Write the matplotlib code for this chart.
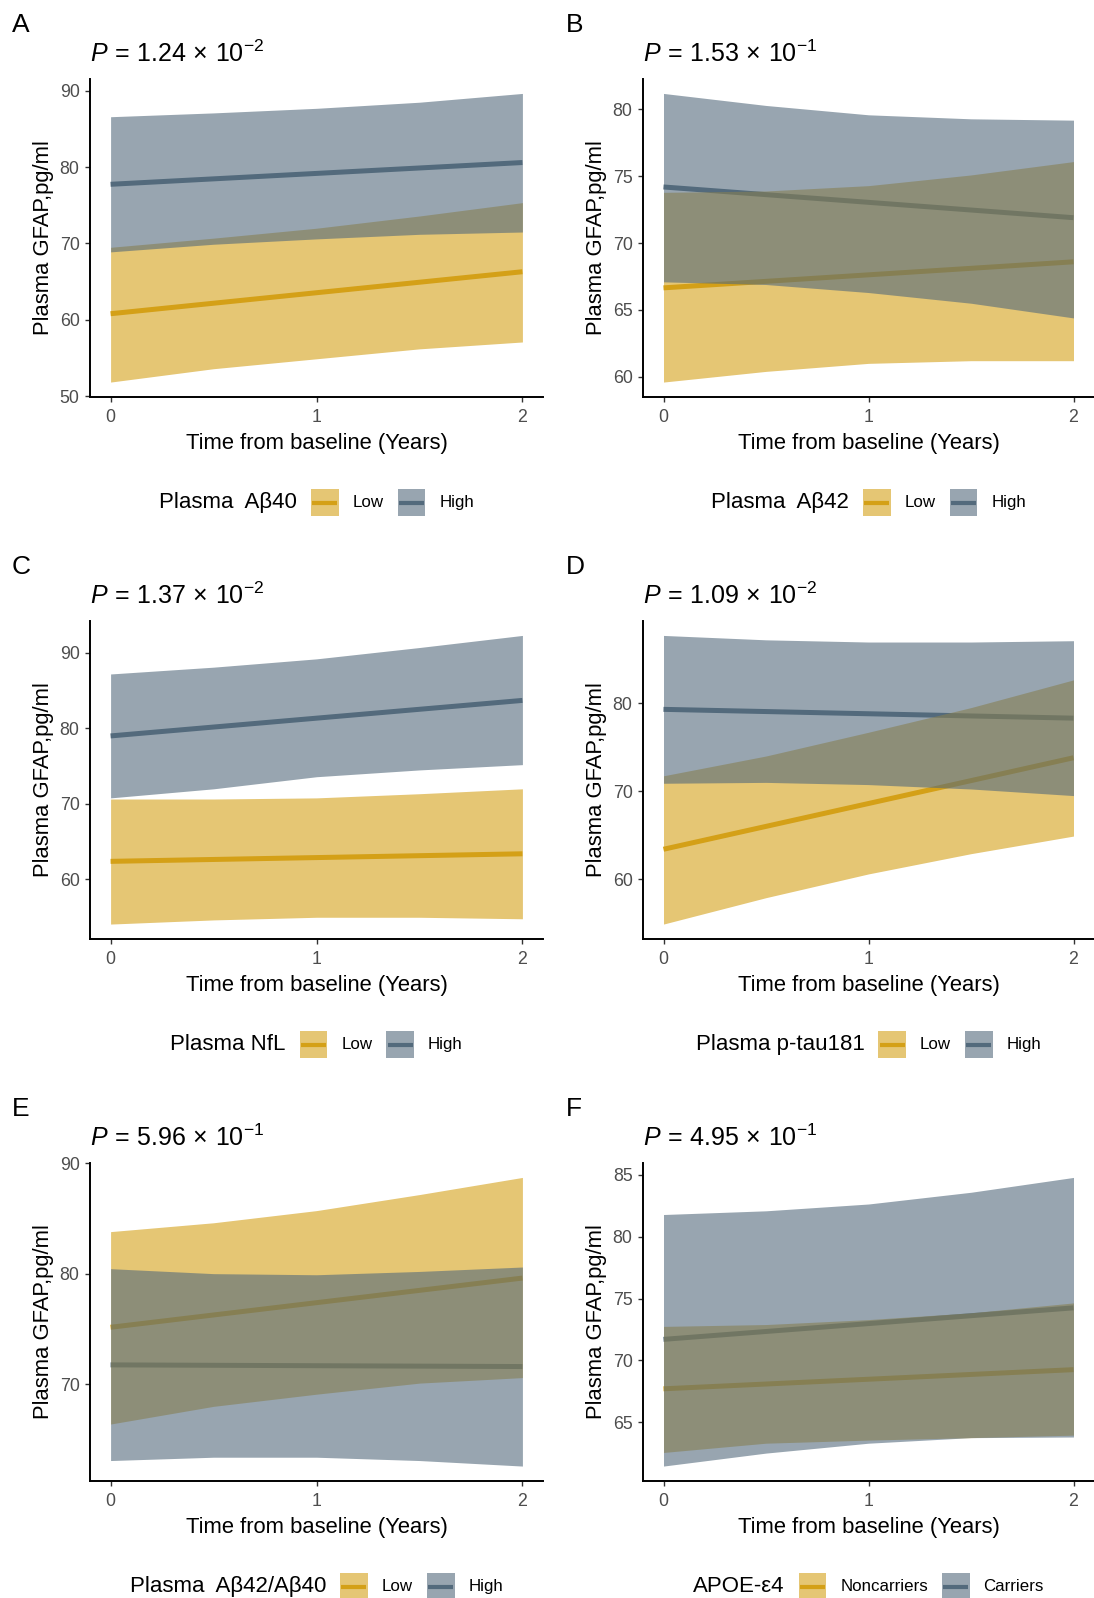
import matplotlib
matplotlib.use("Agg")
import matplotlib.pyplot as plt
from matplotlib.offsetbox import AnchoredOffsetbox, HPacker, TextArea, DrawingArea
from matplotlib.patches import Rectangle
from matplotlib.lines import Line2D

plt.rcParams['font.family'] = ['Liberation Sans', 'DejaVu Sans']
plt.rcParams['mathtext.fontset'] = 'custom'
plt.rcParams['mathtext.rm'] = 'Liberation Sans'
plt.rcParams['mathtext.it'] = 'Liberation Sans:italic'

# panel data
panel_letters = ['A', 'B', 'C', 'D', 'E', 'F']
p_mantissa = ['1.24', '1.53', '1.37', '1.09', '5.96', '4.95']
p_exponent = [-2, -1, -2, -2, -1, -1]
legend_titles = ['Plasma  A\u03b240', 'Plasma  A\u03b242', 'Plasma NfL',
                 'Plasma p-tau181', 'Plasma  A\u03b242/A\u03b240', 'APOE-\u03b54']
group_labels = [['Low', 'High']] * 5 + [['Noncarriers', 'Carriers']]
y_ticks = [[50, 60, 70, 80, 90], [60, 65, 70, 75, 80], [60, 70, 80, 90],
           [60, 70, 80], [70, 80, 90], [65, 70, 75, 80, 85]]

line_years = [0, 2]
band_years = [0, 0.5, 1, 1.5, 2]

low_line = [[60.8, 66.3], [66.65, 68.6], [62.4, 63.4],
            [63.4, 73.8], [75.15, 79.6], [67.7, 69.25]]
low_lo = [[51.85, 53.6, 54.9, 56.2, 57.1],
          [59.6, 60.4, 61.0, 61.2, 61.2],
          [54.1, 54.65, 55.0, 55.0, 54.8],
          [54.9, 57.9, 60.6, 62.9, 64.9],
          [66.4, 68.0, 69.1, 70.1, 70.6],
          [62.55, 63.3, 63.55, 63.75, 63.95]]
low_hi = [[69.5, 70.7, 72.0, 73.6, 75.35],
          [73.8, 73.9, 74.3, 75.1, 76.1],
          [70.65, 70.65, 70.8, 71.35, 72.0],
          [71.75, 74.0, 76.7, 79.5, 82.65],
          [83.8, 84.6, 85.7, 87.15, 88.7],
          [72.75, 72.9, 73.3, 73.85, 74.65]]
high_line = [[77.75, 80.6], [74.2, 71.9], [79.0, 83.7],
             [79.3, 78.3], [71.75, 71.6], [71.7, 74.25]]
high_lo = [[68.9, 69.9, 70.6, 71.2, 71.5],
           [67.1, 66.9, 66.3, 65.5, 64.4],
           [70.8, 72.0, 73.6, 74.5, 75.2],
           [70.9, 71.0, 70.75, 70.25, 69.5],
           [63.1, 63.4, 63.4, 63.1, 62.6],
           [61.45, 62.5, 63.3, 63.75, 63.8]]
high_hi = [[86.6, 87.1, 87.7, 88.5, 89.65],
           [81.2, 80.3, 79.6, 79.3, 79.2],
           [87.2, 88.1, 89.2, 90.7, 92.3],
           [87.7, 87.2, 86.95, 86.95, 87.1],
           [80.45, 80.0, 79.9, 80.2, 80.6],
           [81.8, 82.1, 82.65, 83.6, 84.8]]

low_color = '#D4A017'
high_color = '#536A7C'
band_alpha = 0.6

W, H = 1094, 1598
fig = plt.figure(figsize=(W / 100, H / 100), dpi=100)

col_left = [90, 643]
col_width = [453, 451]
row_top = [79, 621, 1163]
ax_h = 317.5


def legend_key(color):
    da = DrawingArea(20, 20, 0, 0)
    da.add_artist(Rectangle((0, 0), 20, 20, facecolor=color, alpha=band_alpha, lw=0))
    da.add_artist(Line2D([1, 19], [10, 10], color=color, lw=3, solid_capstyle='butt'))
    return da


for i in range(6):
    r, c = divmod(i, 2)
    x0 = col_left[c] / W
    y0 = 1 - (row_top[r] + ax_h) / H
    ax = fig.add_axes([x0, y0, col_width[c] / W, ax_h / H])

    ax.plot(line_years, low_line[i], color=low_color, lw=3.6, zorder=1, solid_capstyle='butt')
    ax.plot(line_years, high_line[i], color=high_color, lw=3.6, zorder=1, solid_capstyle='butt')
    ax.fill_between(band_years, low_lo[i], low_hi[i], color=low_color,
                    alpha=band_alpha, lw=0, zorder=2)
    ax.fill_between(band_years, high_lo[i], high_hi[i], color=high_color,
                    alpha=band_alpha, lw=0, zorder=3)

    ax.set_xticks([0, 1, 2])
    ax.set_yticks(y_ticks[i])
    for s in ['top', 'right']:
        ax.spines[s].set_visible(False)
    for s in ['left', 'bottom']:
        ax.spines[s].set_linewidth(1.4)
    ax.tick_params(length=3.5, width=1.0, color='#333333', labelcolor='#4D4D4D',
                   labelsize=12.8)
    ax.tick_params(axis='x', pad=5.5)
    ax.tick_params(axis='y', pad=4)
    ax.set_xlabel('Time from baseline (Years)', fontsize=15.8, labelpad=5)
    ax.set_ylabel('Plasma GFAP,pg/ml', fontsize=15.8, labelpad=4)

    ax.text(0, 1 + 17 / ax_h,
            r'$P\,=\,%s\,\times\,10^{%d}$' % (p_mantissa[i], p_exponent[i]),
            transform=ax.transAxes, fontsize=18, va='baseline', ha='left')
    fig.text((12 if c == 0 else 566) / W, 1 - (32 + 542 * r) / H,
             panel_letters[i], fontsize=19, va='baseline', ha='left')

    items = [TextArea(legend_titles[i], textprops=dict(fontsize=16))]
    for lab, col in zip(group_labels[i], [low_color, high_color]):
        items.append(legend_key(col))
        items.append(TextArea(lab, textprops=dict(fontsize=12.2)))
    box = HPacker(children=items, align='center', pad=0, sep=10)
    anchored = AnchoredOffsetbox(loc='center', child=box, pad=0, frameon=False,
                                 bbox_to_anchor=(0.5, -106 / ax_h),
                                 bbox_transform=ax.transAxes, borderpad=0)
    ax.add_artist(anchored)

fig.savefig('out.png', dpi=100)
